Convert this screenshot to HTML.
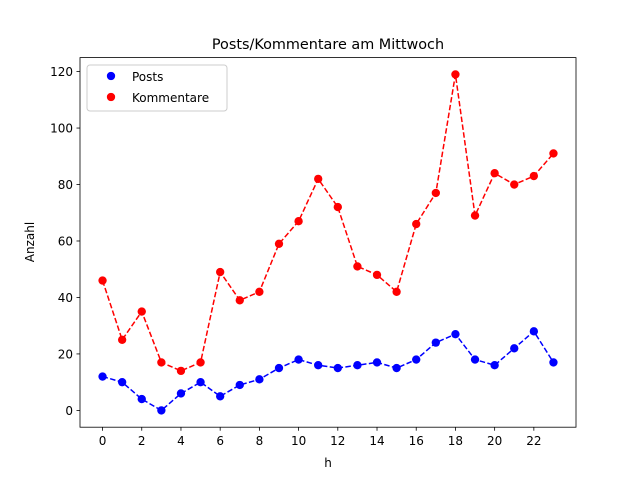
<!DOCTYPE html>
<html><head><meta charset="utf-8"><style>
body{margin:0;background:#fff;font-family:"DejaVu Sans","Liberation Sans",sans-serif;}
</style></head><body>
<svg width="640" height="480" viewBox="0 0 640 480" xmlns="http://www.w3.org/2000/svg">
<rect width="640" height="480" fill="#fff"/>
<g id="plot"></g>
<rect x="80" y="57.6" width="496" height="369.6" fill="none" stroke="#000" stroke-width="0.8"/>
<text x="328" y="49" text-anchor="middle" font-size="14.4">Posts/Kommentare am Mittwoch</text>
<text x="328" y="467" text-anchor="middle" font-size="12">h</text>
<text transform="translate(34,242) rotate(-90)" text-anchor="middle" font-size="12">Anzahl</text>
<g>
<rect x="87" y="65" width="140" height="46" rx="3" fill="#fff" stroke="#ccc" stroke-width="1"/>
<circle cx="111" cy="76" r="4.17" fill="#0000ff"/>
<text x="132" y="81" font-size="12">Posts</text>
<circle cx="111" cy="97" r="4.17" fill="#ff0000"/>
<text x="132" y="102" font-size="12">Kommentare</text>
</g>
</svg>
<script>
const hours=[0,1,2,3,4,5,6,7,8,9,10,11,12,13,14,15,16,17,18,19,20,21,22,23];
const posts=[12,10,4,0,6,10,5,9,11,15,18,16,15,16,17,15,18,24,27,18,16,22,28,17];
const kommentare=[46,25,35,17,14,17,49,39,42,59,67,82,72,51,48,42,66,77,119,69,84,80,83,91];
const xTicks=[0,2,4,6,8,10,12,14,16,18,20,22];
const yTicks=[0,20,40,60,80,100,120];
const NS="http://www.w3.org/2000/svg";
const g=document.getElementById('plot');
const xs=v=>80+(v+1.15)*(496/25.3);
const ys=v=>427.2-(v+5.95)*(369.6/130.9);
function mk(t,a){const e=document.createElementNS(NS,t);for(const k in a)e.setAttribute(k,a[k]);g.appendChild(e);return e;}
xTicks.forEach(t=>{
 const l=mk('line',{x1:xs(t),x2:xs(t),y1:427.2,y2:430.7,stroke:'#000','stroke-width':0.8});
 
 
 const tx=mk('text',{x:xs(t),y:445,'text-anchor':'middle','font-size':12});
 tx.textContent=t;
 
 
});
yTicks.forEach(t=>{
 const l=mk('line',{x1:76.5,x2:80,y1:ys(t),y2:ys(t),stroke:'#000','stroke-width':0.8});
 
 
 const tx=mk('text',{x:73,y:ys(t)+4.5,'text-anchor':'end','font-size':12});
 tx.textContent=t;
 
 
});
function series(vals,color,name){
 const p=mk('polyline',{points:hours.map((h,i)=>xs(h)+','+ys(vals[i])).join(' '),fill:'none',stroke:color,'stroke-width':1.5,'stroke-dasharray':'5.5,2.4'});
 
 
 hours.forEach((h,i)=>{
  const c=mk('circle',{cx:xs(h),cy:ys(vals[i]),r:4.17,fill:color});
  
  
 });
}
series(posts,'#0000ff','posts');
series(kommentare,'#ff0000','kommentare');
</script>
</body></html>
